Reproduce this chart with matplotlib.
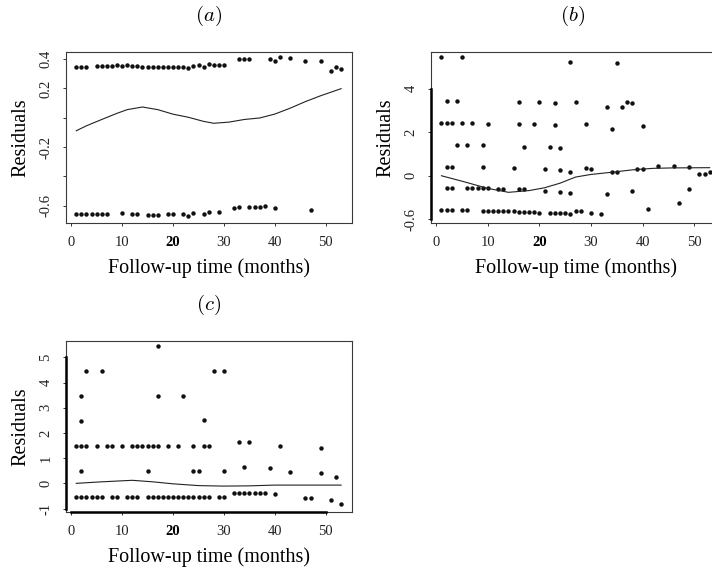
import numpy as np
import matplotlib
matplotlib.use("Agg")
import matplotlib.pyplot as plt

plt.rcParams['font.family'] = ['Liberation Serif', 'DejaVu Serif']
plt.rcParams['mathtext.fontset'] = 'cm'

# ---- panel (a) ----
a_top_x = [1, 2, 3] + list(range(5, 31)) + [33, 34, 35, 39, 40, 41, 43, 46, 49, 51, 52, 53]
a_top_y = [0.348, 0.348, 0.348,
           0.350, 0.350, 0.352, 0.355, 0.356, 0.355, 0.356, 0.354, 0.350, 0.348,
           0.346, 0.345, 0.345, 0.345, 0.345, 0.345, 0.346, 0.345, 0.338, 0.355,
           0.358, 0.345, 0.365, 0.362, 0.362, 0.362,
           0.398, 0.398, 0.398, 0.398, 0.389, 0.414, 0.410, 0.389, 0.389, 0.318, 0.348, 0.334]
a_bot_x = [1, 2, 3, 4, 5, 6, 7, 10, 12, 13, 15, 16, 17, 19, 20, 22, 23, 24, 26, 27, 29,
           32, 33, 35, 36, 37, 38, 40, 47]
a_bot_y = [-0.657, -0.657, -0.657, -0.657, -0.657, -0.657, -0.657, -0.652, -0.657, -0.657,
           -0.660, -0.662, -0.660, -0.657, -0.657, -0.657, -0.670, -0.652, -0.659, -0.641,
           -0.641, -0.614, -0.607, -0.607, -0.607, -0.607, -0.600, -0.614, -0.631]
a_fit_x = [1, 3, 6, 9, 11, 14, 17, 20, 23, 26, 28, 31, 34, 37, 40, 43, 46, 49, 53]
a_fit_y = [-0.089, -0.055, -0.012, 0.030, 0.055, 0.073, 0.055, 0.024, 0.003, -0.025,
           -0.038, -0.030, -0.012, -0.002, 0.025, 0.065, 0.110, 0.150, 0.198]

# ---- panel (b) ----
b_x = [1, 5,
       2, 4, 16, 20, 23, 27, 33, 36, 37, 38, 26, 35,
       1, 2, 3, 5, 7, 10, 16, 19, 23, 29, 34, 40,
       4, 6, 9, 17, 22, 24,
       2, 3, 9, 15, 21, 24, 26, 29, 30, 34, 35, 39, 40, 43, 46, 49, 51, 52, 53,
       2, 3, 6, 7, 8, 9, 10, 12, 13, 16, 17, 21, 24, 26, 33, 38, 49,
       41, 47,
       1, 2, 3, 5, 6, 9, 10, 11, 12, 13, 14, 15, 16, 17, 18, 19, 20,
       22, 23, 24, 25, 26, 27, 28, 30, 32]
b_y = [5.46, 5.46,
       3.43, 3.43, 3.38, 3.38, 3.32, 3.38, 3.17, 3.17, 3.36, 3.33, 5.20, 5.17,
       2.43, 2.43, 2.43, 2.43, 2.43, 2.38, 2.35, 2.35, 2.31, 2.36, 2.16, 2.28,
       1.42, 1.42, 1.42, 1.33, 1.32, 1.27,
       0.41, 0.41, 0.41, 0.37, 0.32, 0.26, 0.18, 0.37, 0.29, 0.16, 0.16, 0.30, 0.29,
       0.46, 0.47, 0.40, 0.08, 0.09, 0.16,
       -0.58, -0.58, -0.58, -0.58, -0.58, -0.58, -0.58, -0.60, -0.60, -0.62, -0.62,
       -0.69, -0.75, -0.81, -0.85, -0.70, -0.61,
       -1.53, -1.27,
       -1.57, -1.57, -1.57, -1.58, -1.58, -1.60, -1.60, -1.61, -1.62, -1.62, -1.63,
       -1.63, -1.64, -1.65, -1.66, -1.68, -1.70,
       -1.70, -1.70, -1.70, -1.70, -1.74, -1.63, -1.63, -1.70, -1.77]
b_fit_x = [1, 5, 10, 14, 18, 21, 24, 27, 30, 34, 38, 42, 46, 53]
b_fit_y = [0.0, -0.25, -0.58, -0.76, -0.68, -0.55, -0.34, -0.06, 0.06, 0.16, 0.27, 0.34, 0.36, 0.37]
b_tick_pos = [-2, 0, 2, 4]
b_tick_lab = ['-0.6', '0', '2', '4']

# ---- panel (c) ----
c_x = [17, 3, 6, 28, 30, 2, 17, 22, 2, 26,
       1, 2, 3, 5, 7, 8, 10, 12, 13, 14, 15, 16, 17, 19, 21, 24, 26, 27, 33, 35, 41, 49,
       2, 15, 24, 25, 30, 34, 39, 43, 49, 52,
       1, 2, 3, 4, 5, 6, 8, 9, 11, 12, 13, 15, 16, 17, 18, 19, 20, 21, 22, 23, 24, 25,
       26, 27, 29, 30, 32, 33, 34, 35, 36, 37, 38, 40, 46, 47, 51, 53]
c_y = [5.46, 4.47, 4.47, 4.46, 4.47, 3.48, 3.48, 3.45, 2.48, 2.50,
       1.47, 1.47, 1.47, 1.47, 1.47, 1.47, 1.47, 1.47, 1.47, 1.47, 1.47, 1.47, 1.47,
       1.47, 1.47, 1.47, 1.47, 1.47, 1.63, 1.63, 1.47, 1.39,
       0.49, 0.49, 0.49, 0.49, 0.49, 0.65, 0.62, 0.46, 0.40, 0.26,
       -0.53, -0.53, -0.53, -0.53, -0.53, -0.53, -0.53, -0.53, -0.53, -0.53, -0.53,
       -0.53, -0.53, -0.53, -0.53, -0.53, -0.53, -0.53, -0.53, -0.53, -0.53, -0.53,
       -0.53, -0.53, -0.53, -0.53, -0.37, -0.37, -0.37, -0.37, -0.37, -0.37, -0.37,
       -0.41, -0.57, -0.57, -0.66, -0.82]
c_fit_x = [1, 6, 12, 16, 20, 25, 30, 35, 40, 53]
c_fit_y = [0.0, 0.06, 0.12, 0.06, -0.02, -0.09, -0.11, -0.10, -0.07, -0.07]

xticks = [0, 10, 20, 30, 40, 50]

fig = plt.figure(figsize=(7.12, 5.68), dpi=100)
W, H = 712.0, 568.0


def make_axes(left, right, top, bottom):
    return fig.add_axes([left / W, 1 - bottom / H, (right - left) / W, (bottom - top) / H])


def style(ax, ylim, yticks, ylabels, title, title_xy, thick_left=False, thick_bottom=False):
    ax.set_xlim(-1.08, 55.08)
    ax.set_ylim(*ylim)
    for s in ax.spines.values():
        s.set_color('#3a3a3a')
        s.set_linewidth(0.8)
    ax.set_xticks(xticks)
    ax.set_xticklabels([str(t) for t in xticks], fontsize=10.5, color='#222222')
    for lab in ax.get_xticklabels():
        if lab.get_text() == '20':
            lab.set_fontweight('bold')
            lab.set_color('black')
    ax.set_yticks(yticks)
    ax.set_yticklabels(ylabels, fontsize=10.5, rotation=90, va='center', color='#222222')
    ax.tick_params(direction='out', length=2.5, width=0.7, pad=7, color='#333333')
    ax.set_xlabel('Follow-up time (months)', fontsize=14.5)
    ax.xaxis.set_label_coords(0.5, -0.26)
    ax.xaxis.label.set_va('center')
    ax.set_ylabel('Residuals', fontsize=14.5)
    ax.yaxis.set_label_coords(-0.155, 0.5)
    ax.yaxis.label.set_va('center')
    x0 = ax.get_xlim()[0]
    y0 = ax.get_ylim()[0]
    if thick_left:
        ax.plot([x0, x0], [yticks[0], yticks[-1]], color='black', lw=1.8, clip_on=False, zorder=5)
    if thick_bottom:
        ax.plot([xticks[0], xticks[-1]], [y0, y0], color='black', lw=1.8, clip_on=False, zorder=5)
    fig.text(title_xy[0] / W, 1 - title_xy[1] / H, title, fontsize=15, ha='center', va='center')


# (a)
axa = make_axes(65.7, 351.7, 52.3, 223.3)
axa.plot(a_top_x, a_top_y, 'o', color='#111111', ms=3.2, mew=0)
axa.plot(a_bot_x, a_bot_y, 'o', color='#111111', ms=3.2, mew=0)
axa.plot(a_fit_x, a_fit_y, '-', color='#222222', lw=0.8)
style(axa, (-0.72, 0.446), [-0.6, -0.4, -0.2, 0.0, 0.2, 0.4],
      ['-0.6', '', '-0.2', '', '0.2', '0.4'], r'$(a)$', (209, 16))

# (b)
axb = make_axes(430.7, 720.4, 52.3, 223.3)
axb.plot(b_x, b_y, 'o', color='#111111', ms=3.2, mew=0)
axb.plot(b_fit_x, b_fit_y, '-', color='#222222', lw=0.8)
style(axb, (-2.18, 5.66), b_tick_pos, b_tick_lab, r'$(b)$', (573, 16), thick_left=True)

# (c)
axc = make_axes(65.7, 351.7, 341.0, 512.3)
axc.plot(c_x, c_y, 'o', color='#111111', ms=3.2, mew=0)
axc.plot(c_fit_x, c_fit_y, '-', color='#222222', lw=0.8)
style(axc, (-1.15, 5.65), [-1, 0, 1, 2, 3, 4, 5], ['-1', '0', '1', '2', '3', '4', '5'],
      r'$(c)$', (209, 305), thick_left=True, thick_bottom=True)

fig.savefig('out.png', dpi=100)
